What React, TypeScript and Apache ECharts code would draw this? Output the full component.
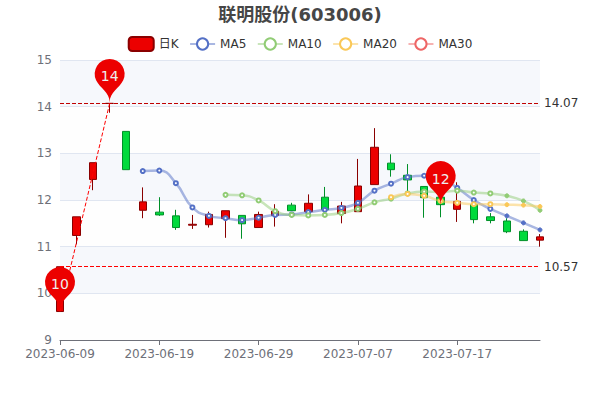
import React, { useEffect, useRef } from "react";
import * as echarts from "echarts";

const dates = ["2023-06-09","2023-06-12","2023-06-13","2023-06-14","2023-06-15","2023-06-16","2023-06-19","2023-06-20","2023-06-21","2023-06-26","2023-06-27","2023-06-28","2023-06-29","2023-06-30","2023-07-03","2023-07-04","2023-07-05","2023-07-06","2023-07-07","2023-07-10","2023-07-11","2023-07-12","2023-07-13","2023-07-14","2023-07-17","2023-07-18","2023-07-19","2023-07-20","2023-07-21","2023-07-24"];
// open, close, low, high
const kData = [
  [9.61,10.57,9.61,10.57],[11.24,11.64,11.05,11.64],[12.44,12.8,12.21,12.8],[14.07,14.07,13.87,14.07],[13.47,12.65,12.65,13.47],
  [11.78,11.96,11.61,12.27],[11.74,11.68,11.66,12.06],[11.66,11.41,11.36,11.79],[11.46,11.48,11.38,11.68],[11.47,11.69,11.41,11.75],
  [11.6,11.77,11.19,11.77],[11.67,11.49,11.17,11.67],[11.41,11.69,11.41,11.75],[11.67,11.76,11.43,11.91],[11.89,11.77,11.77,11.94],
  [11.75,11.93,11.72,12.12],[12.06,11.79,11.79,12.28],[11.71,11.87,11.5,11.96],[11.75,12.3,11.75,12.88],[12.33,13.13,12.33,13.54],
  [12.79,12.65,12.5,12.98],[12.53,12.43,12.19,12.77],[12.29,12.05,11.62,12.29],[12.06,11.9,11.63,12.3],[11.8,11.97,11.53,12.38],
  [11.9,11.58,11.5,12.0],[11.64,11.56,11.5,11.72],[11.55,11.32,11.29,11.61],[11.33,11.13,11.13,11.37],[11.14,11.21,11.0,11.27],
];
const n = null;
const ma5 = [n,n,n,n,n,12.62,12.63,12.36,11.84,11.66,11.61,11.57,11.62,11.68,11.69,11.74,11.79,11.83,11.94,12.2,12.35,12.49,12.52,12.47,12.26,12.0,11.81,11.66,11.51,11.36];
const ma10 = [n,n,n,n,n,n,n,n,n,n,12.11,12.1,11.99,11.76,11.68,11.67,11.68,11.72,11.81,11.95,12.03,12.14,12.18,12.17,12.2,12.16,12.14,12.09,11.98,11.78];
const ma20 = [n,n,n,n,n,n,n,n,n,n,n,n,n,n,n,n,n,n,n,n,12.06,12.13,12.09,11.98,11.94,11.91,11.91,11.9,11.89,11.86];
const ma30: (number | null)[] = dates.map(() => null);
const yRange = [9, 15];
const firstFilledIndex = 27;

const FONT = "'DejaVu Sans', 'Noto Sans CJK SC', sans-serif";
const maSeries = (name: string, data: (number | null)[], color: string) => ({
  name,
  type: "line",
  data: data.map((value, i) =>
    i >= firstFilledIndex && value != null
      ? { value, symbolSize: 4, itemStyle: { color, borderColor: color, borderWidth: 1 } }
      : value
  ),
  smooth: true,
  showAllSymbol: true,
  symbol: "circle",
  symbolSize: 4,
  itemStyle: { color: "#fff", borderColor: color, borderWidth: 2 },
  lineStyle: { color, width: 2.5, opacity: 0.5 },
  emphasis: { disabled: true },
});

export default function App() {
  const ref = useRef<HTMLDivElement>(null);
  useEffect(() => {
    const chart = echarts.init(ref.current!, undefined, { renderer: "svg" });
    chart.setOption({
      animation: false,
      textStyle: { fontFamily: FONT },
      title: { text: "联明股份(603006)", left: "center", top: 0, textStyle: { fontSize: 18, fontWeight: "bold", color: "#464646", fontFamily: FONT } },
      legend: {
        top: 31,
        left: "center",
        itemWidth: 25,
        itemHeight: 14,
        itemGap: 10.5,
        textStyle: { fontSize: 12, color: "#333", fontFamily: FONT },
        data: ["日K", "MA5", "MA10", "MA20", "MA30"],
      },
      grid: { left: 60, right: 60, top: 60, bottom: 60 },
      xAxis: {
        type: "category",
        data: dates,
        boundaryGap: false,
        axisLine: { lineStyle: { color: "#6E7079" } },
        axisTick: { show: true, alignWithLabel: true, lineStyle: { color: "#6E7079" } },
        axisLabel: { interval: 5, color: "#6E7079", fontSize: 12, fontFamily: FONT, hideOverlap: false, showMinLabel: true },
        splitLine: { show: false },
      },
      yAxis: {
        type: "value",
        min: yRange[0],
        max: yRange[1],
        interval: 1,
        axisLine: { show: false },
        axisTick: { show: false },
        axisLabel: { color: "#6E7079", fontSize: 12, fontFamily: FONT },
        splitLine: { show: true, lineStyle: { color: "#E0E6F1" } },
        splitArea: { show: true, areaStyle: { color: ["rgba(250,250,250,0.2)", "rgba(210,219,238,0.2)"] } },
      },
      series: [
        {
          name: "日K",
          type: "candlestick",
          data: kData,
          clip: false,
          barWidth: 8,
          itemStyle: { color: "#ec0000", color0: "#00da3c", borderColor: "#8A0000", borderColor0: "#008F28", borderWidth: 1 },
          markPoint: {
            symbol: "pin",
            symbolSize: 50,
            label: { color: "#eee", fontSize: 14, fontFamily: FONT },
            itemStyle: { color: "#ec0000" },
            data: [
              { coord: [0, 9.63], value: 10 },
              { coord: [3, 14.09], value: 14 },
              { coord: [23, 11.9], value: 12 },
            ],
          },
          markLine: {
            symbol: "none",
            silent: true,
            precision: 2,
            label: { position: "end", distance: 4, color: "#333", fontSize: 12, fontFamily: FONT },
            data: [
              { yAxis: 14.07, lineStyle: { color: "#c00000", type: "dashed", width: 1 } },
              { yAxis: 10.57, lineStyle: { color: "#f00", type: "dashed", width: 1 } },
              [
                { coord: [0, 9.61], lineStyle: { color: "#f00", type: "dashed", width: 1 }, label: { show: false } },
                { coord: [3, 14.07] },
              ],
            ],
          },
        },
        maSeries("MA5", ma5, "#5470c6"),
        maSeries("MA10", ma10, "#91cc75"),
        maSeries("MA20", ma20, "#fac858"),
        maSeries("MA30", ma30, "#ee6666"),
      ],
    });
    return () => chart.dispose();
  }, []);
  return <div ref={ref} style={{ width: 600, height: 400, position: "absolute", left: 0, top: 0 }} />;
}
